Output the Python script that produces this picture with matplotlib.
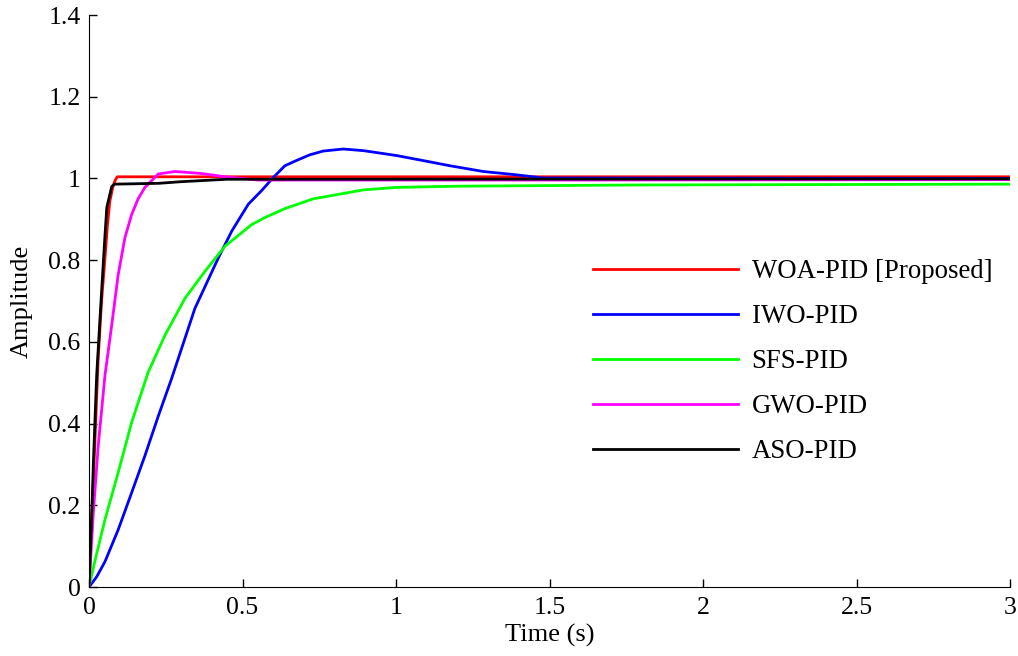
import matplotlib
matplotlib.use("Agg")
import matplotlib.pyplot as plt

plt.rcParams['font.family'] = ['Liberation Serif', 'DejaVu Serif']

labels = ["WOA-PID [Proposed]", "IWO-PID", "SFS-PID", "GWO-PID", "ASO-PID"]
colors = ["#ff0000", "#0000ff", "#00ff00", "#ff00ff", "#000000"]

t_woa = [0, 0.005, 0.018, 0.03, 0.041, 0.052, 0.060, 0.068, 0.078, 0.085, 0.092, 3.0]
y_woa = [0, 0.10, 0.33, 0.56, 0.70, 0.805, 0.885, 0.945, 0.980, 0.995, 1.004, 1.004]

t_iwo = [0, 0.025, 0.052, 0.095, 0.139, 0.182, 0.226, 0.269, 0.345, 0.421, 0.465,
         0.519, 0.562, 0.60, 0.638, 0.676, 0.72, 0.763, 0.828, 0.894, 1.002, 1.10,
         1.176, 1.284, 1.39, 1.48, 3.0]
y_iwo = [0, 0.025, 0.062, 0.140, 0.231, 0.321, 0.419, 0.510, 0.682, 0.805, 0.871,
         0.937, 0.970, 1.002, 1.031, 1.044, 1.058, 1.067, 1.072, 1.068, 1.056, 1.042,
         1.031, 1.017, 1.009, 1.001, 1.0]

t_sfs = [0, 0.02, 0.052, 0.095, 0.139, 0.193, 0.248, 0.313, 0.378, 0.443, 0.53,
         0.575, 0.638, 0.73, 0.894, 1.0, 1.2, 1.8, 3.0]
y_sfs = [0, 0.066, 0.165, 0.280, 0.403, 0.526, 0.617, 0.707, 0.773, 0.834, 0.887,
         0.905, 0.926, 0.950, 0.972, 0.978, 0.981, 0.984, 0.986]

t_gwo = [0, 0.014, 0.03, 0.052, 0.074, 0.095, 0.117, 0.139, 0.16, 0.182,
         0.226, 0.28, 0.367, 0.443, 0.55, 1.5, 3.0]
y_gwo = [0, 0.181, 0.345, 0.518, 0.641, 0.764, 0.855, 0.912, 0.950, 0.978,
         1.011, 1.017, 1.012, 1.004, 0.996, 0.996, 0.997]

t_aso = [0, 0.01, 0.014, 0.02, 0.025, 0.041, 0.052, 0.058, 0.074, 0.083, 0.226,
         0.30, 0.45, 3.0]
y_aso = [0, 0.20, 0.296, 0.420, 0.518, 0.723, 0.860, 0.929, 0.980, 0.986, 0.988,
         0.992, 0.998, 0.999]

series_t = [t_woa, t_iwo, t_sfs, t_gwo, t_aso]
series_y = [y_woa, y_iwo, y_sfs, y_gwo, y_aso]

fig = plt.figure(figsize=(10.18, 6.56), dpi=100)
ax = fig.add_axes([89/1018, 1-587/656, (1010-89)/1018, (587-15)/656])

for t, y, c, lab in zip(series_t, series_y, colors, labels):
    ax.plot(t, y, color=c, lw=2.0, label=lab)

ax.set_xlim(0, 3)
ax.set_ylim(0, 1.4)
ax.set_xticks([0, 0.5, 1, 1.5, 2, 2.5, 3])
ax.set_xticklabels(["0", "0.5", "1", "1.5", "2", "2.5", "3"])
ax.set_yticks([0, 0.2, 0.4, 0.6, 0.8, 1.0, 1.2, 1.4])
ax.set_yticklabels(["0", "0.2", "0.4", "0.6", "0.8", "1", "1.2", "1.4"])
ax.spines['top'].set_visible(False)
ax.spines['right'].set_visible(False)
ax.tick_params(direction='in', length=6, width=1, labelsize=18.5)
ax.tick_params(axis='y', pad=6)
ax.tick_params(axis='x', pad=7)
ax.set_xlabel("Time (s)", fontsize=19, labelpad=4)
ax.set_ylabel("Amplitude", fontsize=19, labelpad=11)

leg = ax.legend(loc='upper left', bbox_to_anchor=(580/1018, 1 - 246/656),
                bbox_transform=fig.transFigure, frameon=False, fontsize=19.3,
                handlelength=5.4, handletextpad=0.5, labelspacing=0.745, borderpad=0)
for line in leg.get_lines():
    line.set_linewidth(2.0)

fig.savefig("out.png", dpi=100)
